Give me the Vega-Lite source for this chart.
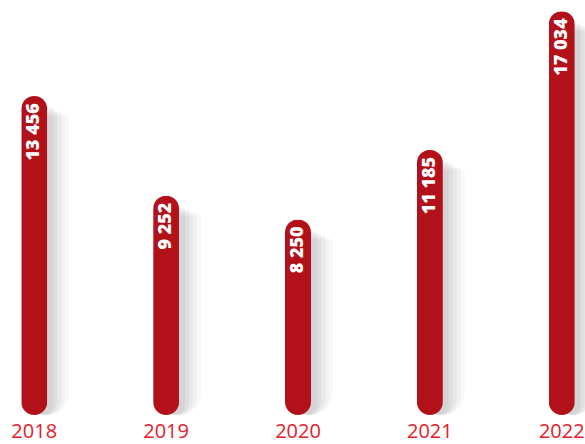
{
  "$schema": "https://vega.github.io/schema/vega-lite/v6.json",
  "autosize": "none",
  "padding": {"left": 0, "top": 0, "right": 0, "bottom": 29},
  "width": 596,
  "height": 415,
  "background": "white",
  "config": {"view": {"stroke": null}},
  "data": {"values": [
    {"year": "2018", "value": 13456, "label": "13 456"},
    {"year": "2019", "value": 9252, "label": "9 252"},
    {"year": "2020", "value": 8250, "label": "8 250"},
    {"year": "2021", "value": 11185, "label": "11 185"},
    {"year": "2022", "value": 17034, "label": "17 034"}
  ]},
  "encoding": {
    "x": {
      "field": "year", "type": "ordinal",
      "scale": {"paddingInner": 0.8027, "paddingOuter": 0.161},
      "axis": {"title": null, "domain": false, "ticks": false, "grid": false, "labelAngle": 0,
               "labelFont": "Open Sans", "labelFontSize": 20, "labelColor": "#e3202a",
               "labelPadding": 6, "labelFontWeight": 400}
    },
    "y": {"field": "value", "type": "quantitative", "scale": {"domain": [0, 17510], "nice": false}, "axis": null}
  },
  "layer": [
    {"mark": {"type": "bar", "color": "#000000", "opacity": 0.025, "xOffset": 13, "yOffset": 20, "width": 44, "cornerRadius": 22}},
    {"mark": {"type": "bar", "color": "#000000", "opacity": 0.03, "xOffset": 12, "yOffset": 18, "width": 38, "cornerRadius": 19}},
    {"mark": {"type": "bar", "color": "#000000", "opacity": 0.035, "xOffset": 11, "yOffset": 16, "width": 32, "cornerRadius": 16}},
    {"mark": {"type": "bar", "color": "#000000", "opacity": 0.04, "xOffset": 10, "yOffset": 14, "width": 26, "cornerRadius": 13}},
    {"mark": {"type": "bar", "color": "#000000", "opacity": 0.045, "xOffset": 9, "yOffset": 12, "width": 20, "cornerRadius": 10}},
    {"mark": {"type": "bar", "color": "#b3111a", "cornerRadius": 13}},
    {"mark": {"type": "text", "angle": -90, "align": "right", "baseline": "middle", "dx": -7,
              "font": "Open Sans", "fontSize": 18, "fontWeight": 800, "color": "white"},
     "encoding": {"text": {"field": "label"}}}
  ]
}
